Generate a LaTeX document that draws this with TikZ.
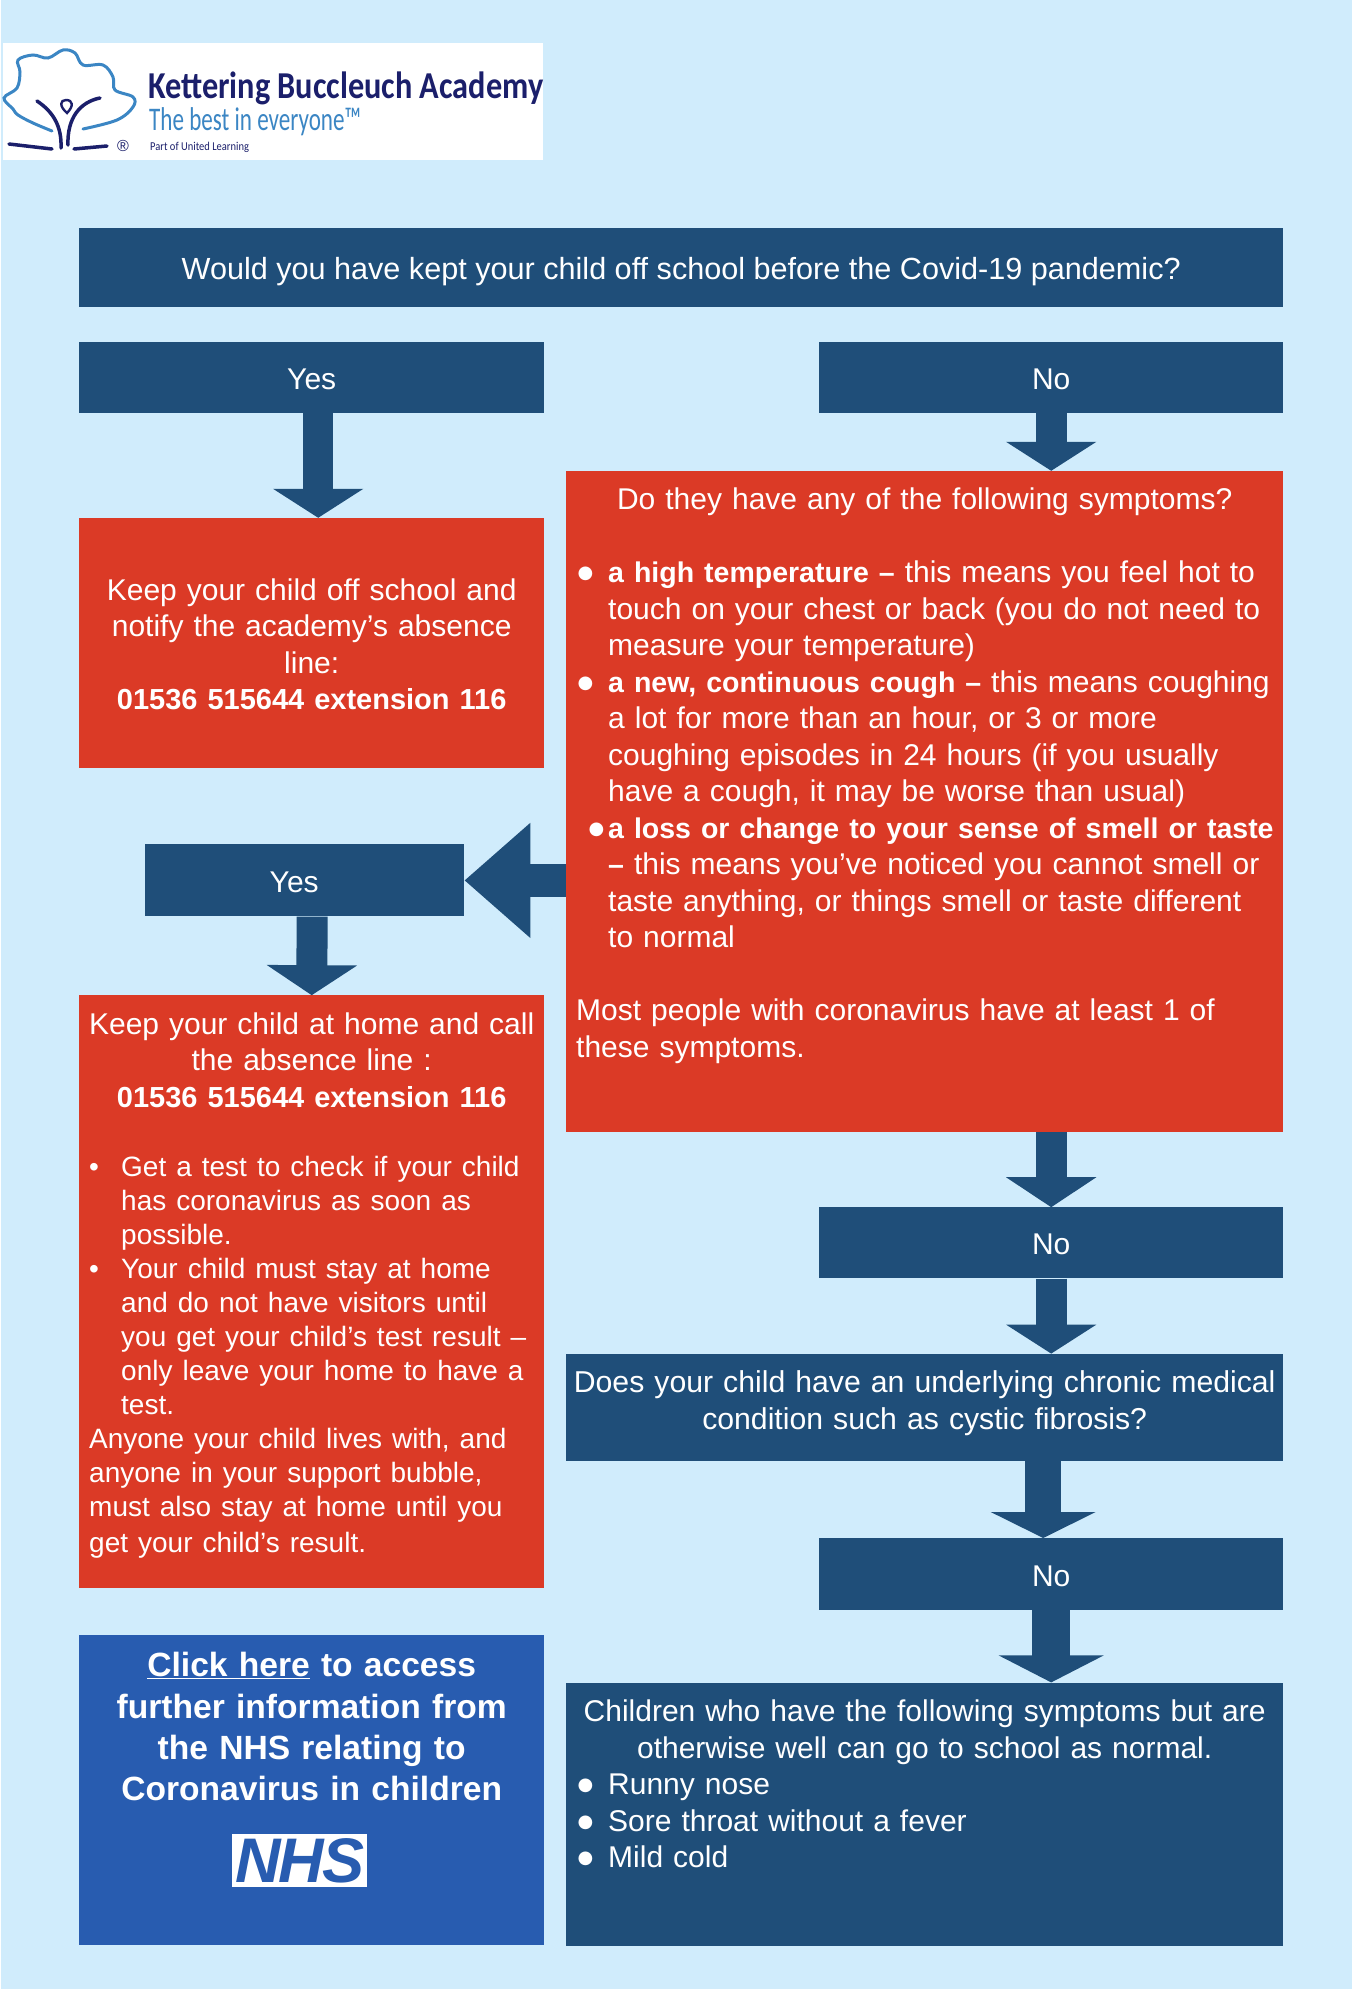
\documentclass[tikz,border=0pt]{standalone}
\usepackage{fontspec}
\setmainfont{Liberation Sans}
\newfontfamily\logofont{Carlito}
\newfontfamily\dotfont{DejaVu Sans}
\usepackage{xcolor}
\usetikzlibrary{positioning,arrows.meta}
\definecolor{PageBlue}{HTML}{D0ECFC}
\definecolor{Navy}{HTML}{1F4E79}
\definecolor{Brick}{HTML}{DB3A26}
\definecolor{NhsBlue}{HTML}{285CB0}
\definecolor{LogoNavy}{HTML}{1B1F6B}
\definecolor{LogoBlue}{HTML}{3B86C4}
\newcommand{\bodyfont}{\fontsize{30}{36.5}\selectfont}
\newcommand{\widefont}{\fontsize{30.6}{36.5}\selectfont}
\newcommand{\smallbody}{\fontsize{28}{34}\selectfont}
\newcommand{\heavy}[1]{{\bfseries\fontsize{28.5}{36.5}\selectfont #1}}
\newcommand{\phone}{{\bfseries\fontsize{29}{36.5}\selectfont 01536 515644 extension 116}}
\newcommand{\dotmark}{\raisebox{4pt}{\dotfont\fontsize{18}{18}\selectfont ●}}
\newcommand{\bul}{\makebox[32pt][l]{\hspace*{1.5pt}\dotmark}}
\newcommand{\ind}{\hspace*{32pt}}
\begin{document}
\begin{tikzpicture}[x=1pt,y=-1pt,every node/.style={font=\bodyfont,text=white,inner sep=0pt},
  navybox/.style={fill=Navy,minimum width=#1},
  redbox/.style={fill=Brick,minimum width=#1},
  oneline/.style={text height=24pt,text depth=0pt},
  toptext/.style n args={2}{text height=#1,text depth=#2,text width=697pt,align=left},
  logoline/.style={LogoNavy,line width=3.5pt,line cap=round},
  bigarrow/.style n args={3}{draw=Navy,line width=#1,-{Triangle[width=#2,length=#3]}}]
  \useasboundingbox (0,0) rectangle (1352,1995);
  \fill[white] (0,0) rectangle (1352,1995);
  \fill[PageBlue] (1,0) rectangle (1352,1989);

  \node[fill=white,anchor=north west,minimum width=540pt,minimum height=117pt] (logo) at (3,43) {};
  \draw[LogoBlue,line width=3pt,line cap=round] plot[smooth,tension=0.6] coordinates {(52,131) (33,123) (18,115) (13,109) (4,98) (17,88) (20,72) (18,60) (33,55) (48,58) (63,50) (75,53) (83,65) (103,65) (113,77) (115,90) (133,97) (133,107) (117,120) (83,129)};
  \draw[logoline] (37,101) .. controls (52,111) and (62,125) .. (61,148);
  \draw[logoline] (100,98) .. controls (80,102) and (67,118) .. (68,145);
  \draw[LogoNavy,line width=2.4pt] (67,113) .. controls (59,106) and (60,100) .. (66,100) .. controls (73,100) and (74,106) .. (67,113) -- cycle;
  \draw[logoline] (9,144) -- (52,149);
  \draw[logoline] (74,149) -- (107,146);
  \node[font=\fontsize{16}{16}\selectfont,text=LogoNavy] (regmark) at (123,146) {\textregistered};
  \node[anchor=west,font=\logofont\bfseries\fontsize{38}{38}\selectfont,text=LogoNavy] (academy) at (148,88) {\scalebox{0.85}[1]{Kettering Buccleuch Academy}};
  \node[anchor=west,font=\logofont\fontsize{33}{33}\selectfont,text=LogoBlue] (motto) at (149,122) {\scalebox{0.7}[1]{The best in everyone™}};
  \node[anchor=west,font=\logofont\fontsize{12}{12}\selectfont,text=LogoNavy] (partof) at (150,147) {\scalebox{0.875}[1]{Part of United Learning}};

  \node[navybox=1204pt,minimum height=79pt,oneline,anchor=north west,font=\widefont] (question) at (79,228) {Would you have kept your child off school before the Covid-19 pandemic?};
  \node[navybox=465pt,minimum height=71pt,oneline,below=34pt of question.south west,anchor=north west] (yesA) {Yes};
  \node[navybox=464pt,minimum height=71pt,oneline,below=34pt of question.south east,anchor=north east] (noA) {No};
  \node[redbox=465pt,toptext={82pt}{168pt},text width=445pt,align=center,below=105pt of yesA.south] (keepoff) {Keep your child off school and\\notify the academy’s absence\\line:\\\phone};
  \node[redbox=717pt,toptext={38pt}{623pt},below=58pt of noA.south east,anchor=north east] (symptoms) {\makebox[697pt][c]{Do they have any of the following symptoms?}\\[37pt]
    \bul\heavy{a high temperature –} this means you feel hot to\\
    \ind touch on your chest or back (you do not need to\\
    \ind measure your temperature)\\
    \bul\heavy{a new, continuous cough –} this means coughing\\
    \ind a lot for more than an hour, or 3 or more\\
    \ind coughing episodes in 24 hours (if you usually\\
    \ind have a cough, it may be worse than usual)\\
    \mbox{\hspace*{12.5pt}\makebox[19.5pt][l]{\dotmark}\heavy{a loss or change to your sense of smell or taste}}\\
    \ind\heavy{–} this means you've noticed you cannot smell or\\
    \ind taste anything, or things smell or taste different\\
    \ind to normal\\[36.5pt]
    Most people with coronavirus have at least 1 of\\
    these symptoms.};
  \node[navybox=319pt,minimum height=72pt,oneline,below=76pt of keepoff.south west,xshift=66pt,anchor=north west] (yesB) {Yes\hspace*{21pt}};
  \node[redbox=465pt,toptext={39pt}{554pt},below=227pt of keepoff.south,text width=445pt] (athome) {\makebox[445pt][c]{Keep your child at home and call}\\
    \makebox[445pt][c]{the absence line :}\\
    \makebox[445pt][c]{\phone}\\[35pt]
    \smallbody\makebox[32pt][l]{•}Get a test to check if your child\\
    \ind has coronavirus as soon as\\
    \ind possible.\\
    \makebox[32pt][l]{•}Your child must stay at home\\
    \ind and do not have visitors until\\
    \ind you get your child’s test result –\\
    \ind only leave your home to have a\\
    \ind test.\\
    Anyone your child lives with, and\\
    anyone in your support bubble,\\
    must also stay at home until you\\
    get your child’s result.};
  \node[fill=NhsBlue,toptext={42pt}{268pt},minimum width=465pt,below=46pt of athome.south,text width=445pt,align=center,font=\bfseries\fontsize{33.6}{41.3}\selectfont] (clickhere) {\underline{Click here} to access\\further information from\\the NHS relating to\\Coronavirus in children};
  \node[fill=white,minimum width=135pt,minimum height=53pt,anchor=north west,text=NhsBlue,font=\bfseries\itshape\fontsize{63}{63}\selectfont] (nhslogo) at (232,1834) {\makebox[135pt][c]{N\kern-2pt H\kern-2pt S}};
  \node[navybox=464pt,minimum height=71pt,oneline,below=75pt of symptoms.south east,anchor=north east] (noB) {No};
  \node[navybox=717pt,toptext={39pt}{68pt},text width=712pt,align=center,font=\fontsize{30.2}{36.5}\selectfont,below=75pt of noB.south east,anchor=north east] (chronic) {Does your child have an underlying chronic medical\\condition such as cystic fibrosis?};
  \node[navybox=464pt,minimum height=72pt,oneline,below=77pt of chronic.south east,anchor=north east] (noC) {No};
  \node[navybox=717pt,toptext={39pt}{224pt},below=72pt of noC.south east,anchor=north east] (otherwise) {\makebox[697pt][c]{Children who have the following symptoms but are}\\
    \makebox[697pt][c]{otherwise well can go to school as normal.}\\
    \bul Runny nose\\
    \bul Sore throat without a fever\\
    \bul Mild cold};

  \draw[bigarrow={30pt}{89pt}{29pt}] ([xshift=6.5pt]yesA.south) -- ([xshift=6.5pt]keepoff.north);
  \draw[bigarrow={31pt}{89pt}{29pt}] (noA.south) -- (noA.south |- symptoms.north);
  \draw[bigarrow={33pt}{111pt}{66pt}] (symptoms.west |- yesB.east) -- (yesB.east);
  \draw[bigarrow={31pt}{89pt}{30pt}] ([xshift=7.5pt]yesB.south) -- (athome.north);
  \draw[bigarrow={31pt}{89pt}{30pt}] (symptoms.south -| noB.north) -- (noB.north);
  \draw[bigarrow={31pt}{89pt}{29pt}] (noB.south) -- (noB.south |- chronic.north);
  \draw[bigarrow={36pt}{104pt}{26pt}] ([xshift=-8pt]noC.north |- chronic.south) -- ([xshift=-8pt]noC.north);
  \draw[bigarrow={38pt}{104pt}{27pt}] (noC.south) -- (noC.south |- otherwise.north);
\end{tikzpicture}
\end{document}
